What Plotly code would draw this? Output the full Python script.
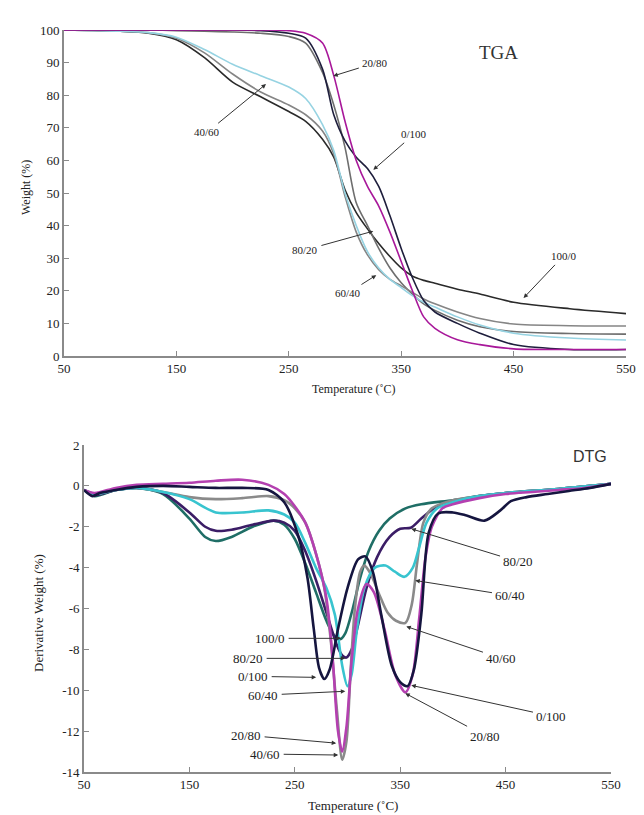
import plotly.graph_objects as go

# ---------------- TGA data ----------------
tga_T = [50, 100, 125, 150, 175, 200, 225, 250, 265, 280, 290, 300, 310, 320, 330,
         340, 350, 360, 370, 380, 400, 420, 450, 500, 550]
tga_100_0 = [100, 99.6, 99, 97, 91.5, 84, 79.5, 75, 72, 66.5, 61, 51, 44, 39, 34.5,
             30.5, 27, 24.5, 23.2, 22.3, 20.5, 19, 16.5, 14.5, 13]
tga_80_20 = [100, 100, 100, 99.8, 99.6, 99.4, 99, 98, 96, 87, 77, 64, 47, 40, 33,
             27, 22.5, 19, 16, 14, 11, 9, 7.5, 6.9, 6.7]
tga_60_40 = [100, 99.6, 99.2, 97.5, 93, 86.5, 81, 77, 74, 69, 62, 49, 38, 31, 26.5,
             23.5, 21.5, 19.5, 17.5, 16, 13.5, 11.5, 9.8, 9.3, 9.2]
tga_40_60 = [100, 99.6, 99.2, 97.8, 94, 89.5, 86, 82.5, 79, 71, 63, 50, 40, 32, 27,
             23.5, 21, 18.5, 16.5, 15, 12, 9.5, 7, 5.5, 4.9]
tga_20_80 = [100, 100, 100, 100, 100, 100, 100, 99.8, 99, 96, 86, 72, 60, 52, 46,
             38, 29, 20, 12, 8.5, 5, 3.5, 2.2, 2, 2]
tga_0_100 = [100, 100, 100, 100, 100, 100, 99.8, 99, 97.5, 88, 74, 66, 61, 57.5, 52,
             43, 33, 24, 17, 13.5, 10, 7, 3.5, 2, 2]

# ---------------- DTG data ----------------
dtg_T_0_100 = [50, 58, 65, 80, 100, 125, 150, 175, 200, 225, 240, 253, 262, 268, 273, 278,
               283, 291, 300, 310, 317, 324, 332, 342, 350, 357, 363, 370, 377, 386, 400,
               413, 430, 445, 455, 470, 490, 510, 530, 550]
dtg_0_100 = [-0.2, -0.5, -0.35, -0.2, -0.05, 0, -0.05, -0.1, -0.1, -0.2, -0.8, -2.4, -4.5,
             -7.0, -8.9, -9.45, -9.0, -7.0, -5.0, -3.6, -3.45, -4.2, -6.3, -8.8, -9.6, -9.8,
             -9.0, -6.3, -2.3, -1.35, -1.3, -1.45, -1.7, -1.2, -0.75, -0.55, -0.4, -0.25,
             -0.1, 0.1]

dtg_T_20_80 = [50, 60, 80, 100, 125, 150, 175, 200, 225, 240, 250, 260, 270, 280, 286, 291,
               295, 299, 304, 310, 318, 325, 335, 345, 355, 362, 368, 374, 380, 390, 400,
               425, 450, 475, 500, 525, 550]
dtg_20_80 = [-0.2, -0.35, -0.1, 0.05, 0.1, 0.15, 0.25, 0.3, 0.05, -0.4, -1.0, -1.8, -3.3,
             -5.5, -8.5, -12.0, -13.0, -11.8, -8.5, -6.0, -4.8, -5.2, -7.0, -9.2, -10.1,
             -9.2, -6.5, -3.5, -2.0, -1.1, -0.9, -0.6, -0.4, -0.3, -0.2, -0.1, 0.1]

dtg_T_40_60 = [50, 60, 80, 100, 125, 150, 175, 200, 225, 240, 250, 260, 270, 278, 284, 290,
               295, 299, 303, 307, 312, 316, 322, 330, 338, 346, 355, 361, 366, 372, 380,
               400, 425, 450, 500, 550]
dtg_40_60 = [-0.2, -0.4, -0.2, -0.1, -0.3, -0.55, -0.65, -0.6, -0.5, -0.7, -1.1, -1.8, -3.3,
             -5.0, -7.5, -11.0, -13.4, -12.5, -9.0, -6.0, -4.2, -3.9, -4.3, -5.3, -6.2, -6.6,
             -6.7, -5.8, -3.8, -1.8, -1.1, -0.7, -0.5, -0.35, -0.15, 0.1]

dtg_T_60_40 = [50, 60, 80, 100, 125, 150, 175, 200, 225, 240, 250, 260, 270, 280, 288, 295,
               300, 304, 309, 316, 326, 336, 345, 354, 362, 368, 375, 385, 400, 425, 450,
               500, 550]
dtg_60_40 = [-0.2, -0.4, -0.2, -0.1, -0.3, -0.65, -1.3, -1.3, -1.2, -1.4, -1.8, -2.8, -4.0,
             -5.0, -6.3, -8.8, -9.8, -9.2, -7.0, -5.0, -4.0, -3.9, -4.2, -4.45, -4.0, -3.0,
             -1.8, -1.1, -0.8, -0.5, -0.35, -0.15, 0.1]

dtg_T_100_0 = [50, 60, 80, 100, 125, 150, 165, 175, 190, 210, 230, 240, 250, 260, 270, 280,
               287, 293, 298, 305, 312, 320, 330, 340, 355, 370, 400, 425, 450, 500, 550]
dtg_100_0 = [-0.2, -0.5, -0.2, -0.1, -0.4, -1.6, -2.5, -2.7, -2.5, -2.0, -1.7, -1.9, -2.6,
             -3.8, -5.2, -6.6, -7.3, -7.5, -7.2, -6.0, -4.5, -3.2, -2.2, -1.6, -1.1, -0.9,
             -0.7, -0.5, -0.35, -0.15, 0.1]

dtg_T_80_20 = [50, 60, 80, 100, 125, 150, 165, 175, 190, 210, 230, 240, 250, 260, 270, 280,
               290, 295, 299, 304, 310, 318, 328, 340, 350, 360, 370, 385, 400, 425, 450,
               500, 550]
dtg_80_20 = [-0.2, -0.45, -0.2, -0.1, -0.35, -1.3, -2.0, -2.2, -2.15, -1.9, -1.7, -1.8, -2.2,
             -3.2, -4.6, -6.2, -7.8, -8.3, -8.4, -8.0, -6.8, -5.0, -3.5, -2.5, -2.1, -2.05,
             -1.6, -1.0, -0.8, -0.5, -0.35, -0.15, 0.1]

x_ticks = [50, 150, 250, 350, 450, 550]
tga_y_ticks = [0, 10, 20, 30, 40, 50, 60, 70, 80, 90, 100]
dtg_y_ticks = [2, 0, -2, -4, -6, -8, -10, -12, -14]
dtg_y_labels = ["2", "0", "-2", "-4", "-6", "-8", "-10", "-12", "-14"]

SERIF = "Liberation Serif, Times New Roman, serif"

fig = go.Figure()

tga_series = [
    ("100/0", tga_100_0, "#2a2a2a"),
    ("80/20", tga_80_20, "#6e6e6e"),
    ("60/40", tga_60_40, "#858585"),
    ("40/60", tga_40_60, "#96d3e2"),
    ("0/100", tga_0_100, "#1e1e3c"),
    ("20/80", tga_20_80, "#a8189a"),
]
for name, ys, col in tga_series:
    fig.add_trace(go.Scatter(x=tga_T, y=ys, mode="lines", name=name,
                             line=dict(color=col, width=1.6, shape="spline", smoothing=0.8),
                             xaxis="x", yaxis="y", showlegend=False))

dtg_series = [
    ("100/0", dtg_T_100_0, dtg_100_0, "#1f6e66"),
    ("80/20", dtg_T_80_20, dtg_80_20, "#3b1d66"),
    ("40/60", dtg_T_40_60, dtg_40_60, "#8a8a8a"),
    ("60/40", dtg_T_60_40, dtg_60_40, "#38c4cf"),
    ("20/80", dtg_T_20_80, dtg_20_80, "#b440b0"),
    ("0/100", dtg_T_0_100, dtg_0_100, "#15153f"),
]
for name, xs, ys, col in dtg_series:
    fig.add_trace(go.Scatter(x=xs, y=ys, mode="lines", name=name,
                             line=dict(color=col, width=2.6, shape="spline", smoothing=0.8),
                             xaxis="x2", yaxis="y2", showlegend=False))

axis_common = dict(showgrid=False, zeroline=False, showline=True, linecolor="#8a8a8a",
                   linewidth=1.6, ticks="inside", ticklen=5, tickcolor="#8a8a8a",
                   tickwidth=1.2, tickfont=dict(family=SERIF, size=13, color="#222"),
                   mirror=False, automargin=False)

fig.update_layout(
    width=644, height=815, margin=dict(l=0, r=0, t=0, b=0),
    paper_bgcolor="white", plot_bgcolor="white",
    xaxis=dict(domain=[56/644, 618/644], range=[50, 550], tickvals=x_ticks,
               anchor="y", **axis_common),
    yaxis=dict(domain=[(815-348)/815, (815-22)/815], range=[0, 100], tickvals=tga_y_ticks,
               anchor="x", **axis_common),
    xaxis2=dict(domain=[76/644, 603/644], range=[50, 550], tickvals=x_ticks,
                anchor="y2", **axis_common),
    yaxis2=dict(domain=[(815-764)/815, (815-437)/815], range=[-14, 2], tickvals=dtg_y_ticks,
                ticktext=dtg_y_labels, anchor="x2", **axis_common),
)

ann = []
# axis titles
ann.append(dict(text="Temperature (˚C)", xref="paper", yref="paper", x=345/644, y=1-381/815,
                xanchor="center", yanchor="middle",
                showarrow=False, font=dict(family=SERIF, size=12, color="#222")))
ann.append(dict(text="Weight (%)", xref="paper", yref="paper", x=18/644, y=1-180/815,
                xanchor="center", yanchor="middle",
                textangle=-90, showarrow=False, font=dict(family=SERIF, size=12, color="#222")))
ann.append(dict(text="Temperature (˚C)", xref="paper", yref="paper", x=345/644, y=1-797/815,
                xanchor="center", yanchor="middle",
                showarrow=False, font=dict(family=SERIF, size=13, color="#222")))
ann.append(dict(text="Derivative Weight (%)", xref="paper", yref="paper", x=30/644,
                y=1-605/815, textangle=-90, showarrow=False, xanchor="center", yanchor="middle",
                font=dict(family=SERIF, size=13, color="#222")))
# panel labels
ann.append(dict(text="TGA", xref="x", yref="y", x=437, y=93, showarrow=False,
                font=dict(family=SERIF, size=19, color="#333")))
ann.append(dict(text="DTG", xref="x2", yref="y2", x=530, y=1.45, showarrow=False,
                font=dict(family="Liberation Sans, Arial, sans-serif", size=16, color="#333")))

# TGA callouts: (label, tip_x, tip_y, text_x, text_y)
tga_callouts = [
    ("20/80", 289.6, 85.9, 326.9, 89.9),
    ("0/100", 325.2, 57.1, 361.6, 68.1),
    ("40/60", 229.7, 83.4, 177.6, 68.7),
    ("80/20", 325.2, 38.3, 264.4, 32.5),
    ("60/40", 327.8, 24.8, 302.6, 19.3),
    ("100/0", 458.9, 17.8, 494.4, 30.7),
]
for lab, tx, ty, lx, ly in tga_callouts:
    ann.append(dict(text=lab, x=tx, y=ty, ax=lx, ay=ly, xref="x", yref="y",
                    axref="x", ayref="y", showarrow=True, arrowhead=2, arrowsize=0.9,
                    arrowwidth=1, arrowcolor="#333", standoff=0, startstandoff=2,
                    font=dict(family=SERIF, size=11, color="#222")))

dtg_callouts = [
    ("80/20", 360.5, -2.10, 462.2, -3.71),
    ("60/40", 364.3, -4.63, 454.6, -5.37),
    ("40/60", 355.8, -6.88, 446.0, -8.44),
    ("0/100", 360.5, -9.76, 493.5, -11.27),
    ("20/80", 354.8, -10.15, 430.8, -12.24),
    ("100/0", 294.0, -7.46, 226.6, -7.46),
    ("80/20", 297.9, -8.44, 205.7, -8.44),
    ("0/100", 270.3, -9.37, 210.5, -9.32),
    ("60/40", 297.9, -10.05, 220.0, -10.24),
    ("20/80", 289.3, -12.59, 203.8, -12.20),
    ("40/60", 291.2, -13.17, 221.9, -13.12),
]
for lab, tx, ty, lx, ly in dtg_callouts:
    ann.append(dict(text=lab, x=tx, y=ty, ax=lx, ay=ly, xref="x2", yref="y2",
                    axref="x2", ayref="y2", showarrow=True, arrowhead=2, arrowsize=0.9,
                    arrowwidth=1, arrowcolor="#333", standoff=0, startstandoff=2,
                    font=dict(family=SERIF, size=13, color="#222")))

fig.update_layout(annotations=ann)
fig.write_html("out.html")
